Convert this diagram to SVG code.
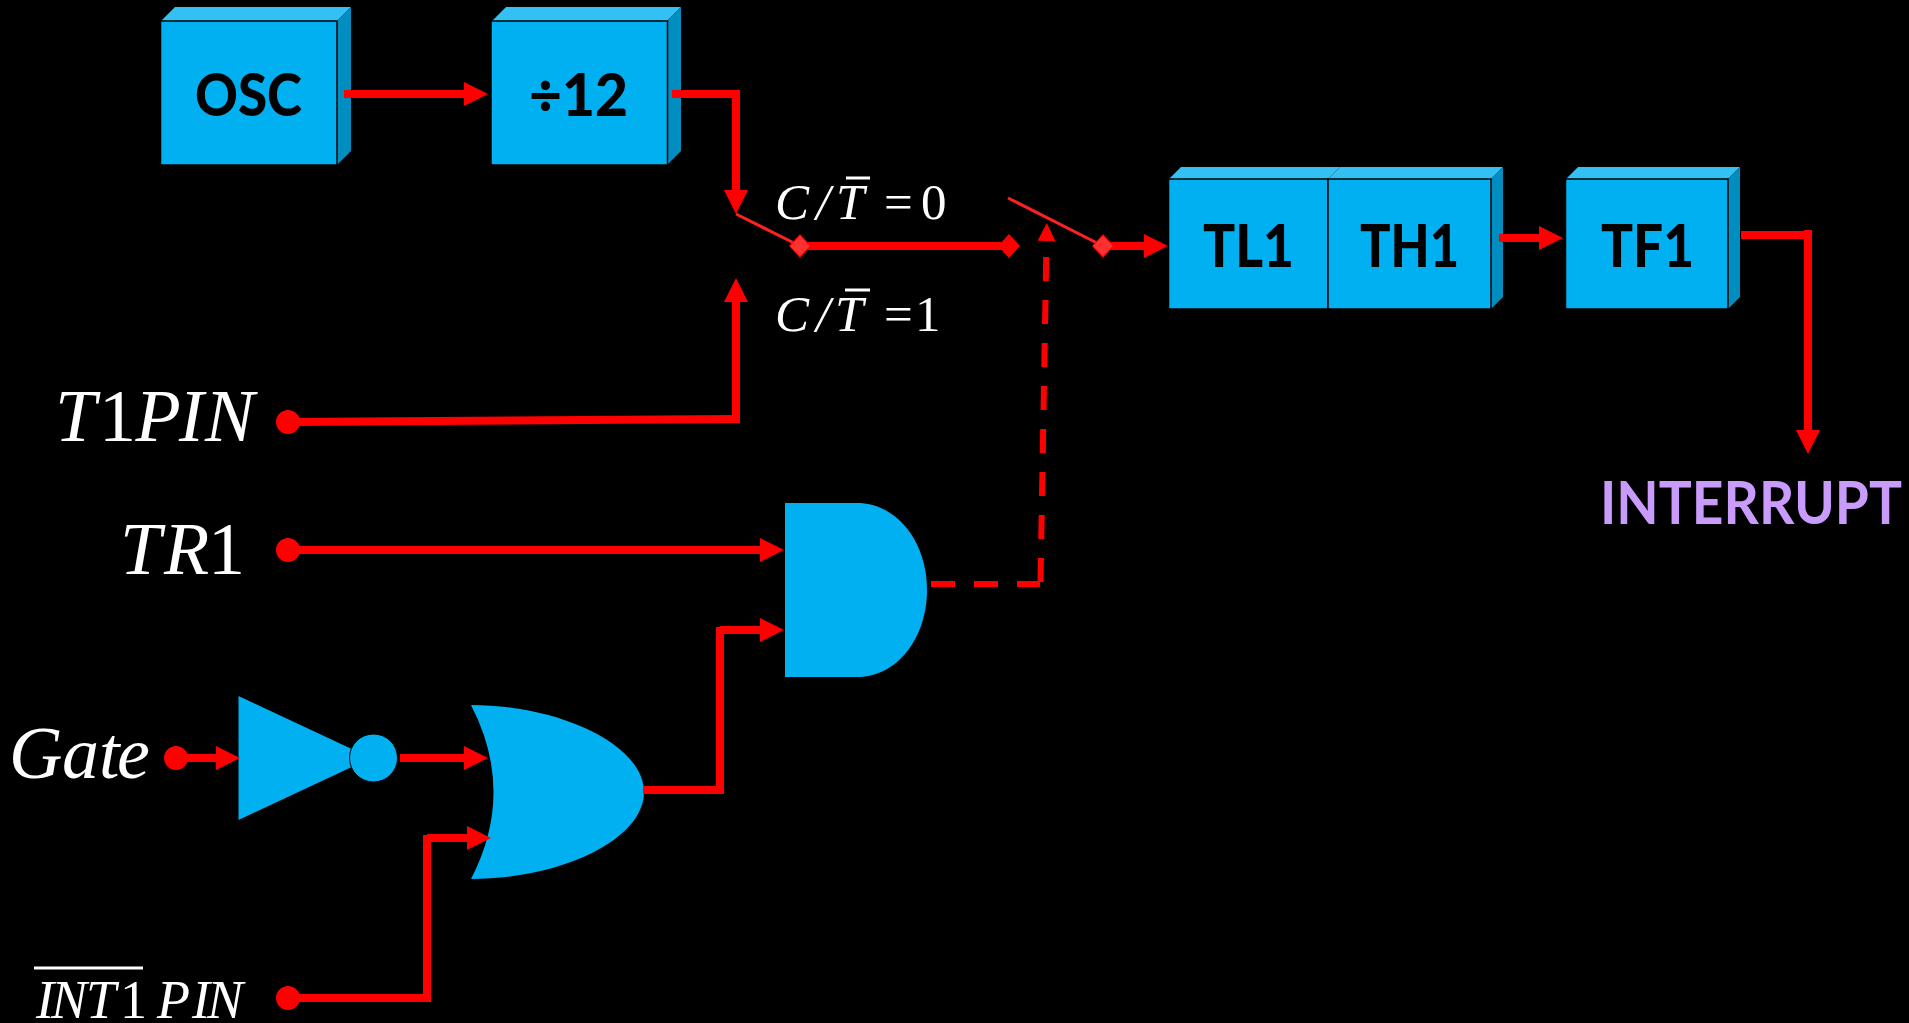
<svg xmlns="http://www.w3.org/2000/svg" width="1909" height="1023" viewBox="0 0 1909 1023">
<style>
.front{fill:#00B0F0;stroke:#000;stroke-width:1.5}
.top{fill:#33C0F3}
.side{fill:#008DC0}
.gate{fill:#00B0F0}
.lbl{font-family:"Lato","Liberation Sans",sans-serif;font-weight:900;font-size:59px;fill:#000}
.irq{font-family:"Lato","Liberation Sans",sans-serif;font-weight:700;font-size:60px;fill:#C99CFB}
.m{font-family:"Liberation Serif","Times New Roman",serif;fill:#fff}
.i{font-style:italic}
.s{font-size:51px}
.b{font-size:74px}
.c{font-size:54px}
.w{fill:none;stroke:#f00;stroke-width:8}
.h{marker-end:url(#arrow)}
.d{fill:none;stroke:#f00;stroke-width:6;stroke-dasharray:24 19}
.t{fill:none;stroke:#FF2020;stroke-width:3}
.dot{fill:#f00}
.dia{fill:#f00}
.dial{fill:#FF3030}
.bar{stroke:#fff;stroke-width:3}
</style>
<defs>
<marker id="arrow" markerUnits="userSpaceOnUse" viewBox="0 0 24 24" markerWidth="24" markerHeight="24" refX="0" refY="12" orient="auto"><path d="M0 0L24 12L0 24Z" fill="#f00"/></marker>
<marker id="arrows" markerUnits="userSpaceOnUse" viewBox="0 0 18 18" markerWidth="18" markerHeight="18" refX="0" refY="9" orient="auto"><path d="M0 0L18 9L0 18Z" fill="#f00"/></marker>
</defs>
<rect width="1909" height="1023" fill="#000"/>

<g id="osc">
<polygon class="top" points="161,21 175,7 351,7 337,21"/>
<polygon class="side" points="337,21 351,7 351,151 337,165"/>
<rect class="front" x="160.500" y="21" width="176.500" height="144"/>
<text class="lbl" x="195" y="116" textLength="107" lengthAdjust="spacingAndGlyphs">OSC</text>
</g>
<g id="div12">
<polygon class="top" points="492,21 506,7 681,7 667,21"/>
<polygon class="side" points="667,21 681,7 681,151 667,165"/>
<rect class="front" x="491" y="21" width="176.500" height="144"/>
<text class="lbl" x="529" y="116" textLength="99" lengthAdjust="spacingAndGlyphs">÷12</text>
</g>
<g id="tl1">
<polygon class="top" points="1169,179 1181,167 1340,167 1328,179"/>
<rect class="front" x="1168.500" y="179" width="159.500" height="130"/>
<text class="lbl" x="1203" y="267" textLength="91" lengthAdjust="spacingAndGlyphs">TL1</text>
</g>
<g id="th1">
<polygon class="top" points="1328,179 1340,167 1503,167 1491,179"/>
<polygon class="side" points="1491,179 1503,167 1503,297 1491,309"/>
<rect class="front" x="1328" y="179" width="163" height="130"/>
<text class="lbl" x="1360" y="267" textLength="99" lengthAdjust="spacingAndGlyphs">TH1</text>
</g>
<g id="tf1">
<polygon class="top" points="1566,179 1578,167 1740,167 1728,179"/>
<polygon class="side" points="1728,179 1740,167 1740,297 1728,309"/>
<rect class="front" x="1565.500" y="179" width="162.500" height="130"/>
<text class="lbl" x="1601" y="267" textLength="93" lengthAdjust="spacingAndGlyphs">TF1</text>
</g>
<g id="and-gate">
<path class="gate" d="M785 503H857C897 503 927 542 927 590C927 638 897 677 857 677H785Z"/>
</g>
<g id="not-gate">
<polygon class="gate" points="238.500,696 238.500,820 371,758"/>
<circle class="gate" cx="373.500" cy="758" r="24" stroke="#000" stroke-width="1"/>
</g>
<g id="or-gate">
<path class="gate" d="M471 705C560 705 644 745 644 792C644 840 560 879 471 879Q516 792 471 705Z"/>
</g>

<g id="connectors">
<path class="w h" d="M344 94H464"/>
<path class="w" d="M672 94H736"/>
<path class="w h" d="M736 90V190"/>
<path class="t" d="M736 214L800 246"/>
<path class="w" d="M800 246H1009"/>
<path class="t" d="M1008 198L1103 246"/>
<path class="w h" d="M1103 246H1144"/>
<path class="w" d="M288 422L736 419"/>
<path class="w h" d="M736 423V302"/>
<path class="w h" d="M288 550H760"/>
<path class="d" d="M931 584H1040"/>
<path class="d" d="M1040.500 582L1046.500 241" style="marker-end:url(#arrows)"/>
<path class="w h" d="M176 758H216"/>
<path class="w h" d="M400 758H464"/>
<path class="w" d="M643 790H720"/>
<path class="w" d="M720 794V627"/>
<path class="w h" d="M720 630H760"/>
<path class="w" d="M288 998H429"/>
<path class="w" d="M427 1002V835"/>
<path class="w h" d="M427 838H467"/>
<path class="w h" d="M1499 238H1539"/>
<path class="w" d="M1741 235H1812"/>
<path class="w h" d="M1808 230V430"/>
<polygon class="dia" points="800,234 811,246 800,258 789,246"/>
<rect class="dial" x="793" y="239" width="14" height="14" transform="rotate(45 800 246)"/>
<polygon class="dia" points="1009,234 1020,246 1009,258 998,246"/>
<polygon class="dia" points="1103,234 1114,246 1103,258 1092,246"/>
<rect class="dial" x="1096" y="239" width="14" height="14" transform="rotate(45 1103 246)"/>
<circle class="dot" cx="288" cy="422" r="12"/>
<circle class="dot" cx="288" cy="550" r="12"/>
<circle class="dot" cx="176" cy="758" r="12"/>
<circle class="dot" cx="288" cy="998" r="12"/>
</g>

<g id="label-ct0">
<text class="m s" y="219"><tspan class="i" x="775">C</tspan><tspan class="i" x="816">/</tspan><tspan class="i" x="836">T</tspan><tspan x="884">=</tspan><tspan x="921">0</tspan></text>
<line class="bar" x1="846" y1="178" x2="870" y2="178"/>
</g>
<g id="label-ct1">
<text class="m s" y="331"><tspan class="i" x="775">C</tspan><tspan class="i" x="816">/</tspan><tspan class="i" x="835">T</tspan><tspan x="884">=</tspan><tspan x="915">1</tspan></text>
<line class="bar" x1="845" y1="290" x2="870" y2="290"/>
</g>
<g id="label-t1pin"><text class="m b" y="441"><tspan class="i" x="55">T</tspan><tspan x="99">1</tspan><tspan class="i" x="135.500">P</tspan><tspan class="i" x="179">I</tspan><tspan class="i" x="205">N</tspan></text></g>
<g id="label-tr1"><text class="m b" y="574"><tspan class="i" x="120">T</tspan><tspan class="i" x="164">R</tspan><tspan x="208">1</tspan></text></g>
<g id="label-gate"><text class="m b i" y="778"><tspan x="9">G</tspan><tspan x="62">a</tspan><tspan x="99">t</tspan><tspan x="117">e</tspan></text></g>
<g id="label-int1pin">
<text class="m c" y="1018"><tspan class="i" x="36">I</tspan><tspan class="i" x="51">N</tspan><tspan class="i" x="86">T</tspan><tspan x="120">1</tspan><tspan class="i" x="157">P</tspan><tspan class="i" x="192">I</tspan><tspan class="i" x="207">N</tspan></text>
<line class="bar" x1="34" y1="968" x2="143" y2="968"/>
</g>
<g id="label-interrupt"><text class="irq" x="1600" y="524" textLength="302" lengthAdjust="spacingAndGlyphs">INTERRUPT</text></g>
</svg>
